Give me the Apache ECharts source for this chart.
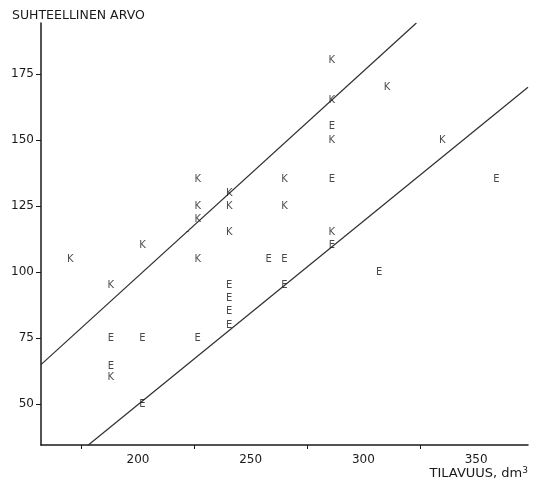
<!DOCTYPE html>
<html>
<head>
<meta charset="utf-8">
<script src="https://cdn.jsdelivr.net/npm/echarts@6/dist/echarts.min.js"></script>
<style>html,body{margin:0;padding:0;background:#fff;}#c{width:545px;height:484px;}</style>
</head>
<body>
<div id="c"></div>
<script>
// Data
var kPoints = [
  [170,105],[188,95],[188,60],[202,110],
  [226.5,135],[226.5,125],[226.5,120],[226.5,105],
  [240.5,130],[240.5,125],[240.5,115],
  [265,135],[265,125],
  [286,180],[286,165],[286,150],[286,115],
  [310.5,170],[335,150]
];
var ePoints = [
  [188,75],[188,64.5],[202,75],[202,50],[226.5,75],
  [240.5,95],[240.5,90],[240.5,85],[240.5,80],
  [258,105],[265,105],[265,95],
  [286,155],[286,135],[286,110],
  [307,100],[359,135]
];
var dashPoints = [[222,115.5]];
var upperLine = [[157,65],[323.5,194.3]];
var lowerLine = [[178,34.6],[373,170]];
var xLabelValues = [200,250,300,350];
var xTickValues = [175,225,275,325];
var yValues = [50,75,100,125,150,175];

var ink = '#1a1a1a';
var font = 'DejaVu Sans';

function letterSeries(name, data, letter, size){
  return {
    name: name, type: 'scatter', data: data,
    symbol: 'circle', symbolSize: 8,
    itemStyle: {color: 'rgba(0,0,0,0)'},
    label: {show: true, position: 'inside', formatter: letter,
      color: ink, fontFamily: font, fontSize: size || 10},
    emphasis: {disabled: true}, silent: true, z: 5
  };
}
function lineSeries(name, data){
  return {
    name: name, type: 'line', data: data, symbol: 'none',
    lineStyle: {color: '#2e2e2e', width: 1.2}, silent: true, z: 3
  };
}

var chart = echarts.init(document.getElementById('c'));
chart.setOption({
  animation: false,
  backgroundColor: '#fff',
  title: {text: 'SUHTEELLINEN ARVO', left: 7, top: 4,
    textStyle: {fontFamily: font, fontSize: 12.5, fontWeight: 'normal', color: ink}},
  grid: {left: 41, right: 17, top: 23, bottom: 39},
  xAxis: {
    type: 'value', min: 157, max: 373,
    name: '{a|TILAVUUS, dm}{s|3}', nameLocation: 'end',
    nameGap: 0,
    nameTextStyle: {
      align: 'right', verticalAlign: 'top', padding: [21, 0, 0, 0],
      rich: {
        a: {fontFamily: font, fontSize: 13, color: ink},
        s: {fontFamily: font, fontSize: 9, color: ink, verticalAlign: 'top', padding: [0,0,6,0]}
      }
    },
    splitLine: {show: false},
    axisLine: {lineStyle: {color: ink, width: 1.5}},
    axisTick: {show: true, customValues: xTickValues, length: 4, lineStyle: {color: ink}},
    axisLabel: {customValues: xLabelValues, margin: 9, color: ink, fontFamily: font, fontSize: 12}
  },
  yAxis: {
    type: 'value', min: 34.6, max: 194.3,
    splitLine: {show: false},
    axisLine: {show: true, lineStyle: {color: ink, width: 1.5}},
    axisTick: {show: true, customValues: yValues, length: 5, lineStyle: {color: ink}},
    axisLabel: {customValues: yValues, margin: 7, color: ink, fontFamily: font, fontSize: 12}
  },
  series: [
    lineSeries('upper', upperLine),
    lineSeries('lower', lowerLine),
    letterSeries('K', kPoints, 'K'),
    letterSeries('E', ePoints, 'E'),
    letterSeries('dash', dashPoints, '-', 9)
  ]
});
</script>
</body>
</html>
